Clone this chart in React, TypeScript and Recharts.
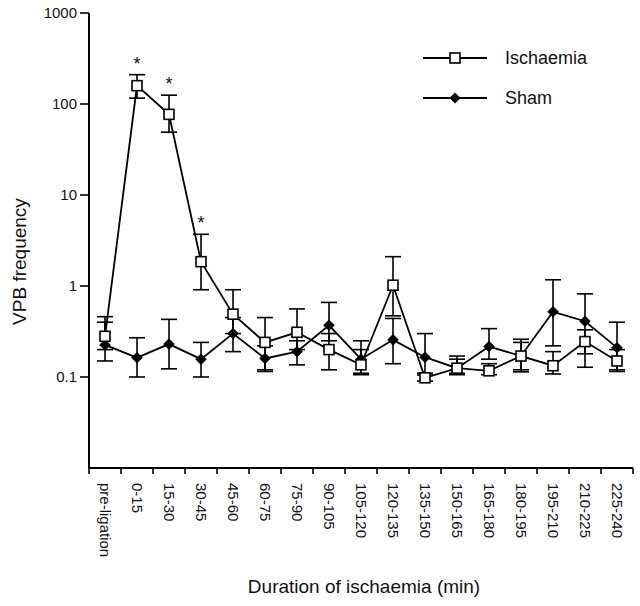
import { LineChart, Line, XAxis, YAxis, ErrorBar, Legend, LabelList } from 'recharts'

const FONT = '"Liberation Sans", Arial, Helvetica, sans-serif'

const categories = [
  'pre-ligation', '0-15', '15-30', '30-45', '45-60', '60-75', '75-90', '90-105',
  '105-120', '120-135', '135-150', '150-165', '165-180', '180-195', '195-210',
  '210-225', '225-240',
]

// VPB frequency, mean with lower / upper end of error bar
const ischaemia = [0.28, 159, 77, 1.85, 0.49, 0.24, 0.31, 0.2, 0.136, 1.02, 0.098, 0.125, 0.117, 0.17, 0.133, 0.245, 0.15]
const ischaemiaLow = [0.2, 116, 49, 0.91, 0.3, 0.12, 0.2, 0.12, 0.106, 0.47, 0.09, 0.106, 0.106, 0.12, 0.108, 0.128, 0.115]
const ischaemiaHigh = [0.46, 210, 125, 3.7, 0.91, 0.45, 0.56, 0.3, 0.2, 2.1, 0.105, 0.157, 0.14, 0.26, 0.19, 0.33, 0.2]

const sham = [0.225, 0.163, 0.23, 0.157, 0.3, 0.16, 0.19, 0.37, 0.157, 0.256, 0.165, 0.125, 0.216, 0.17, 0.52, 0.41, 0.21]
const shamLow = [0.15, 0.1, 0.123, 0.1, 0.19, 0.115, 0.136, 0.25, 0.11, 0.14, 0.11, 0.11, 0.157, 0.114, 0.22, 0.18, 0.12]
const shamHigh = [0.4, 0.27, 0.43, 0.24, 0.45, 0.22, 0.25, 0.66, 0.25, 0.44, 0.3, 0.17, 0.34, 0.24, 1.17, 0.82, 0.4]

const significant = [false, true, true, true, false, false, false, false, false, false, false, false, false, false, false, false, false]

const yTicks = [0.1, 1, 10, 100, 1000]
const boundaryTicks = [...categories.map((_, i) => i), categories.length]
const seriesNames = ['Ischaemia', 'Sham']

const data = categories.map((name, i) => ({
  name,
  slot: i + 0.5,
  ischaemia: ischaemia[i],
  ischaemiaErr: [ischaemia[i] - ischaemiaLow[i], ischaemiaHigh[i] - ischaemia[i]],
  sham: sham[i],
  shamErr: [sham[i] - shamLow[i], shamHigh[i] - sham[i]],
  star: significant[i] ? ischaemiaHigh[i] : null,
  mark: significant[i] ? '*' : null,
}))

const SquareDot = (props: any) => {
  const { cx, cy, index } = props
  if (cx == null || cy == null) return null
  return (
    <rect key={`sq-${index}`} x={cx - 5} y={cy - 5} width={10} height={10}
      fill="#fff" stroke="#000" strokeWidth={1.6} />
  )
}

const DiamondDot = (props: any) => {
  const { cx, cy, index } = props
  if (cx == null || cy == null) return null
  const r = 5.5
  return (
    <polygon key={`dm-${index}`}
      points={`${cx},${cy - r} ${cx + r},${cy} ${cx},${cy + r} ${cx - r},${cy}`}
      fill="#000" stroke="#000" strokeWidth={0.5} />
  )
}

const CategoryTick = (props: any) => {
  const { x, y, payload } = props
  return (
    <text x={x} y={y} transform={`rotate(90 ${x} ${y})`} textAnchor="start"
      dominantBaseline="central" fontSize={15} fontFamily={FONT} fill="#111">
      {payload.value}
    </text>
  )
}

const YTitle = (props: any) => {
  const { viewBox } = props
  const cx = viewBox.x + 19
  const cy = viewBox.y + viewBox.height / 2 + 21
  return (
    <text x={cx} y={cy} transform={`rotate(-90 ${cx} ${cy})`} textAnchor="middle"
      dominantBaseline="central" fontSize={19} fontFamily={FONT} fill="#111">
      VPB frequency
    </text>
  )
}

const XTitle = (props: any) => {
  const { viewBox } = props
  return (
    <text x={viewBox.x + viewBox.width / 2 + 3} y={viewBox.y + viewBox.height - 13}
      textAnchor="middle" fontSize={19} fontFamily={FONT} fill="#111">
      Duration of ischaemia (min)
    </text>
  )
}

const LegendContent = (props: any) => {
  const items = [...(props.payload || [])]
    .filter((p: any) => seriesNames.includes(p.value))
    .sort((a: any, b: any) => seriesNames.indexOf(a.value) - seriesNames.indexOf(b.value))
  return (
    <div style={{ fontFamily: FONT, fontSize: 18, color: '#111' }}>
      {items.map((entry: any) => (
        <div key={entry.value} style={{ display: 'flex', alignItems: 'center', height: 40 }}>
          <svg width={64} height={14}>
            <line x1={0} x2={64} y1={7} y2={7} stroke="#000" strokeWidth={1.8} />
            {entry.value === 'Ischaemia'
              ? <rect x={27} y={2} width={10} height={10} fill="#fff" stroke="#000" strokeWidth={1.6} />
              : <polygon points="32,1.5 37.5,7 32,12.5 26.5,7" fill="#000" />}
          </svg>
          <span style={{ marginLeft: 18 }}>{entry.value}</span>
        </div>
      ))}
    </div>
  )
}

export default function App() {
  return (
    <div style={{ position: 'absolute', left: 0, top: 0, fontFamily: FONT }}>
      <LineChart width={640} height={606} data={data}
        margin={{ top: 13, right: 7, left: 0, bottom: 0 }}>
        <XAxis xAxisId="bounds" dataKey="slot" type="number" domain={[0, categories.length]}
          ticks={boundaryTicks} allowDataOverflow height={1}
          tickFormatter={() => ''} tickSize={6}
          axisLine={{ stroke: '#000', strokeWidth: 2 }}
          tickLine={{ stroke: '#000', strokeWidth: 1.6 }} />
        <XAxis xAxisId="cat" dataKey="name" type="category" scale="band"
          interval={0} height={137} axisLine={false} tickLine={false}
          tickSize={0} tickMargin={14} tick={<CategoryTick />}
          label={{ value: 'Duration of ischaemia (min)', content: XTitle }} />
        <YAxis scale="log" domain={[0.01, 1000]} ticks={yTicks} allowDataOverflow
          width={89} tickSize={9} tickMargin={3}
          tickFormatter={(v: number) => String(v)}
          tick={{ fill: '#111', fontSize: 15, fontFamily: FONT }}
          axisLine={{ stroke: '#000', strokeWidth: 2 }}
          tickLine={{ stroke: '#000', strokeWidth: 1.6 }}
          label={{ value: 'VPB frequency', content: YTitle }} />
        <Legend layout="vertical" align="center" verticalAlign="middle"
          content={<LegendContent />}
          wrapperStyle={{ top: 38, left: 423, width: 200 }} />
        <Line xAxisId="cat" dataKey="sham" name="Sham" stroke="#000" strokeWidth={1.8}
          dot={DiamondDot} activeDot={false} isAnimationActive={false}>
          <ErrorBar dataKey="shamErr" direction="y" width={8} stroke="#000" strokeWidth={1.6} />
        </Line>
        <Line xAxisId="cat" dataKey="ischaemia" name="Ischaemia" stroke="#000" strokeWidth={1.8}
          dot={SquareDot} activeDot={false} isAnimationActive={false}>
          <ErrorBar dataKey="ischaemiaErr" direction="y" width={8} stroke="#000" strokeWidth={1.6} />
        </Line>
        <Line xAxisId="cat" dataKey="star" name="significance" stroke="none" dot={false}
          activeDot={false} legendType="none" isAnimationActive={false}>
          <LabelList dataKey="mark" position="top" offset={5}
            style={{ fontSize: 18, fontFamily: FONT, fill: '#111' }} />
        </Line>
      </LineChart>
    </div>
  )
}
